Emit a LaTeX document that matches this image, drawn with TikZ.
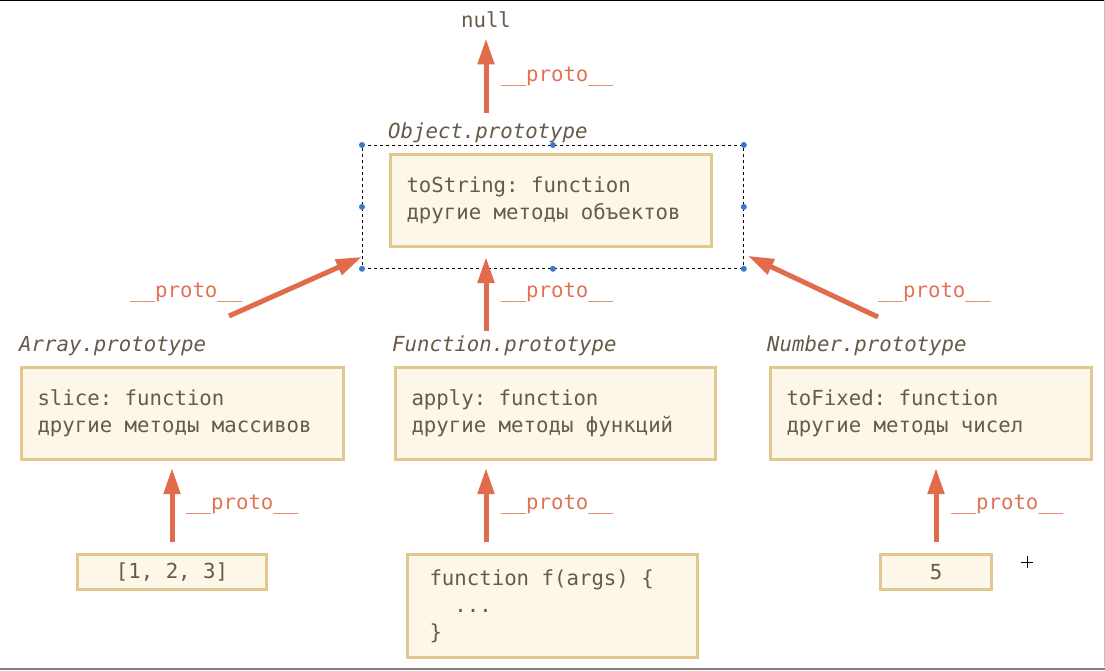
\documentclass[tikz,border=0pt]{standalone}
\usepackage{fontspec}
\setmonofont{DejaVu Sans Mono}
\usetikzlibrary{arrows.meta}
\definecolor{arrowred}{HTML}{E06C4C}
\definecolor{protored}{HTML}{E07256}
\definecolor{inktext}{HTML}{675A48}
\definecolor{boxfill}{HTML}{FCF7E8}
\definecolor{boxedge}{HTML}{E2C78E}
\definecolor{handleblue}{HTML}{3A78C9}
\newcommand\diagfont{\ttfamily\fontsize{20.7pt}{27pt}\selectfont\frenchspacing}
\tikzset{
  protobox/.style={draw=boxedge,fill=boxfill,line width=3pt,anchor=north west,
    align=flush left,inner xsep=16pt,inner ysep=0pt,text=inktext},
  protolink/.style={draw=arrowred,line width=5pt,-{Triangle[length=26pt,width=16pt]}},
  protolabel/.style={text=protored,anchor=base west,inner sep=0pt},
  objname/.style={text=inktext,anchor=base west,inner sep=0pt,font=\diagfont\itshape},
  handle/.style={circle,fill=handleblue,inner sep=0pt,minimum size=6pt}
}
\begin{document}
\begin{tikzpicture}[x=1pt,y=-1pt,font=\diagfont]
\useasboundingbox (0,0) rectangle (1105,670);
% frame edges of the capture
\draw[line width=1.5pt] (0,0.5) -- (1105,0.5);
\draw[gray!50,line width=0.8pt] (1104,0) -- (1104,667);
\draw[gray,line width=2.5pt] (0,669) -- (1105,669);
% top
\node[text=inktext,anchor=base,inner sep=0pt] (nullnode) at (486,27) {null};
\node[protolabel] (protonull) at (501,81) {\_\_proto\_\_};
\node[objname] (objlabel) at (388,138) {Object.prototype};
\node[draw,dash pattern=on 3pt off 3pt,line width=0.8pt,anchor=north west,inner sep=0pt,
  minimum width=381pt,minimum height=123pt] (selbox) at (362,145) {};
\foreach \a [count=\i] in {north west,north,north east,west,east,south west,south,south east}
  \node[handle] (handle\i) at (selbox.\a) {};
\node[protobox,text width=289pt,minimum height=92pt] (objbox) at (389,153)
  {toString: function\\другие методы объектов};
% middle row
\node[protolabel] (protoleft) at (130,297) {\_\_proto\_\_};
\node[protolabel] (protomid) at (501,297) {\_\_proto\_\_};
\node[protolabel] (protoright) at (878,297) {\_\_proto\_\_};
\node[objname] (arrlabel) at (19,351) {Array.prototype};
\node[objname] (funlabel) at (392,351) {Function.prototype};
\node[objname] (numlabel) at (767,351) {Number.prototype};
\node[protobox,text width=290pt,minimum height=92pt] (arrbox) at (20,366)
  {slice: function\\другие методы массивов};
\node[protobox,text width=288pt,minimum height=92pt] (funbox) at (394,366)
  {apply: function\\другие методы функций};
\node[protobox,text width=289pt,minimum height=92pt] (numbox) at (769,366)
  {toFixed: function\\другие методы чисел};
% bottom row
\node[protolabel] (protoarr) at (186,509) {\_\_proto\_\_};
\node[protolabel] (protofun) at (501,509) {\_\_proto\_\_};
\node[protolabel] (protonum) at (951,509) {\_\_proto\_\_};
\node[protobox,align=center,minimum width=189pt,minimum height=35pt] (arrval) at (76,553)
  {[1, 2, 3]};
\node[protobox,inner xsep=22pt,text width=246pt,minimum height=103pt] (funval) at (406,553)
  {function f(args) \{\\\ \ ...\\\}};
\node[protobox,align=center,minimum width=111pt,minimum height=35pt] (numval) at (879,553)
  {5};
% arrows
\coordinate (nulltail) at (486,113);
\coordinate (midtail) at (486,331);
\coordinate (lefttail) at (229,316);
\coordinate (righttail) at (878,317);
\coordinate (funtail) at (486,542);
\draw[protolink,shorten >=11pt] (nulltail) -- (nullnode.south);
\draw[protolink,shorten >=9pt] (midtail) -- (midtail |- objbox.south);
\draw[protolink] (lefttail) -- ([yshift=12pt]selbox.south west);
\draw[protolink] (righttail) -- ([xshift=4pt,yshift=13pt]selbox.south east);
\draw[protolink,shorten <=11pt,shorten >=7pt] (arrval.north) -- (arrval.north |- arrbox.south);
\draw[protolink,shorten >=7pt] (funtail) -- (funtail |- funbox.south);
\draw[protolink,shorten <=11pt,shorten >=7pt] (numval.north) -- (numval.north |- numbox.south);
% cursor
\coordinate (cursor) at (1027,562);
\draw[line width=0.8pt] ([xshift=-6pt]cursor) -- ([xshift=6pt]cursor)
  ([yshift=-6pt]cursor) -- ([yshift=6pt]cursor);
\end{tikzpicture}
\end{document}
